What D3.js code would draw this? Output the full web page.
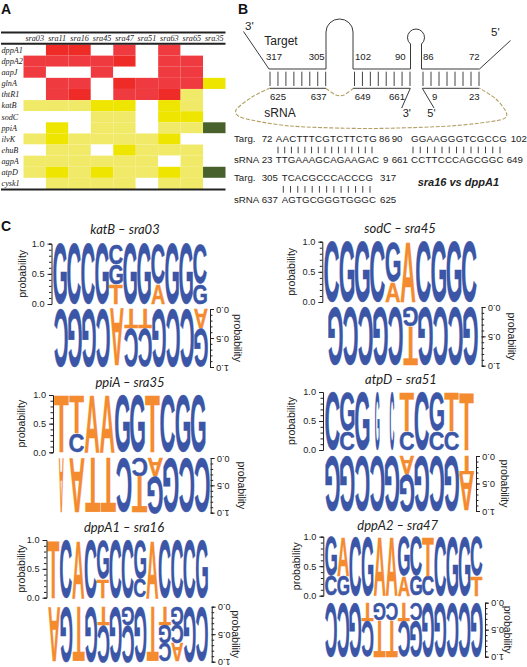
<!DOCTYPE html>
<html>
<head>
<meta charset="utf-8">
<script src="https://cdn.jsdelivr.net/npm/d3@7"></script>
<style>
html, body { margin: 0; padding: 0; background: #fff; overflow: hidden; }
svg { display: block; opacity: 0.999; }
text { font-family: "Liberation Sans", Arial, sans-serif; fill: #222; }
</style>
</head>
<body>
<div class="graph"></div>
<script>
// panel A values
const sraNames = ['sra03', 'sra11', 'sra16', 'sra45', 'sra47', 'sra51', 'sra63', 'sra65', 'sra35'];
const geneNames = ['dppA1', 'dppA2', 'aapJ', 'glnA', 'thtR1', 'katB', 'sodC', 'ppiA', 'ilvK', 'ehuB', 'agpA', 'atpD', 'cysk1'];
const heatLevels = [
    [0, 4, 4, 0, 3, 0, 3, 0, 0],
    [3, 3, 3, 3, 4, 0, 3, 3, 0],
    [3, 0, 0, 3, 0, 0, 3, 3, 0],
    [0, 3, 3, 0, 4, 3, 3, 3, 2],
    [0, 3, 4, 0, 3, 3, 4, 1, 0],
    [1, 1, 1, 2, 2, 0, 2, 1, 0],
    [0, 0, 0, 1, 1, 0, 2, 2, 0],
    [0, 2, 0, 1, 1, 0, 1, 1, 5],
    [1, 2, 1, 1, 1, 1, 2, 0, 0],
    [0, 1, 1, 0, 2, 1, 1, 1, 0],
    [1, 1, 1, 1, 1, 1, 0, 1, 0],
    [1, 2, 1, 2, 1, 1, 2, 1, 5],
    [0, 1, 1, 1, 1, 0, 1, 1, 0]
];

// panel B alignment
const seqTarg1 = 'AACTTTCGTCTTCTG';
const seqSrna1 = 'TTGAAAGCAGAAGAC';
const seqTarg2 = 'GGAAGGGTCGCCG';
const seqSrna2 = 'CCTTCCCAGCGGC';
const seqTarg3 = 'TCACGCCCACCCG';
const seqSrna3 = 'AGTGCGGGTGGGC';

// panel C logos, each column lists letter: probability from the axis outwards
const third = 0.33, rest = 0.67;
const katBTop = [{G:1},{C:1},{C:1},{G:1},{T:third,G:third,C:0.34},{G:1},{G:1},{A:third,C:rest},{G:1},{G:1},{G:third,C:rest}];
const katBBottom = [{C:1},{G:1},{G:1},{C:1},{A:1},{T:third,C:rest},{T:third,C:rest},{G:1},{C:1},{C:1},{A:third,G:rest}];
const sodCTop = [{C:1},{G:1},{G:1},{C:1},{A:third,G:rest},{A:1},{C:1},{G:1},{G:1},{C:1}];
const sodCBottom = [{G:1},{C:1},{C:1},{G:1},{C:1},{G:third,T:rest},{G:1},{C:1},{C:1},{G:1}];
const ppiATop = [{T:1},{C:third,T:rest},{A:1},{A:1},{G:1},{G:1},{T:1},{C:1},{G:1},{G:1}];
const ppiABottom = [{A:1},{A:1},{T:1},{T:1},{C:1},{C:third,T:rest},{A:third,G:rest},{G:1},{C:1},{C:1}];
const ppiABottomThin = [0];
const atpDTop = [{C:1},{C:third,G:rest},{G:1},{G:1},{C:1},{C:third,T:rest},{C:1},{C:third,G:rest},{C:third,T:rest},{T:1}];
const atpDTopThin = [3, 4];
const atpDBottom = [{G:1},{G:1},{C:1},{C:1},{G:1},{A:third,G:rest},{G:1},{C:1},{G:1},{T:third,A:rest}];
const dppA1Top = [{T:1},{C:1},{A:1},{C:1},{T:third,G:rest},{C:1},{C:1},{C:third,G:rest},{A:1},{C:1},{C:1},{C:1},{G:1}];
const dppA1Bottom = [{A:1},{G:1},{T:1},{G:1},{T:third,C:rest},{G:1},{G:third,C:rest},{G:1},{T:1},{T:third,G:third,C:0.34},{G:third,C:third,A:0.34},{G:1},{C:1}];
const dppA2Top = [{C:third,G:rest},{G:third,A:rest},{C:1},{G:1},{A:1},{A:1},{A:third,G:rest},{G:third,C:rest},{C:third,T:rest},{C:1},{G:1},{G:1},{T:third,C:rest}];
const dppA2Bottom = [{C:1},{C:1},{G:1},{T:third,C:rest},{G:third,T:rest},{C:third,T:rest},{T:third,C:rest},{C:third,G:rest},{G:1},{G:1},{C:1},{C:1},{G:1}];

const probTicks = [0, 0.5, 1];
const probMinor = [0, 0.1, 0.2, 0.3, 0.4, 0.5, 0.6, 0.7, 0.8, 0.9, 1];

const svg = d3.select('.graph').append('svg').attr('width', 527).attr('height', 667);

const panelLabel = (txt, x, y) => {
    svg.append('text').attr('x', x).attr('y', y).text(txt)
        .style('font-size', '14px').style('font-weight', 'bold').style('fill', '#111');
};
panelLabel('A', 1, 14);
panelLabel('B', 238, 14);
panelLabel('C', 1, 231);

// ---- A: heat table
const heatColor = d3.scaleOrdinal().domain([0, 1, 2, 3, 4, 5])
    .range(['#ffffff', '#f1ea68', '#eee500', '#ef3b40', '#ee2b27', '#47602c']);
const heatX = d3.scaleBand().domain(sraNames).range([23.5, 225.5]);
const heatY = d3.scaleBand().domain(geneNames).range([44.5, 189]);

const heat = svg.append('g');
geneNames.forEach((gene, r) => {
    sraNames.forEach((sra, c) => {
        heat.append('rect')
            .attr('x', heatX(sra)).attr('y', heatY(gene))
            .attr('width', heatX.bandwidth()).attr('height', heatY.bandwidth())
            .attr('fill', heatColor(heatLevels[r][c]));
    });
    heat.append('text').text(gene)
        .attr('x', 1.5).attr('y', heatY(gene) + heatY.bandwidth() / 2 + 2.8)
        .style('font-family', '"Liberation Serif", serif').style('font-style', 'italic').style('font-size', '8.2px');
});
sraNames.forEach(sra => {
    heat.append('text').text(sra)
        .attr('x', heatX(sra) + heatX.bandwidth() / 2).attr('y', 41)
        .attr('text-anchor', 'middle')
        .style('font-family', '"Liberation Serif", serif').style('font-style', 'italic').style('font-size', '8.2px');
});
[32.5, 43.7, 189.5].forEach(y => {
    heat.append('line').attr('x1', 1).attr('x2', 225.5).attr('y1', y).attr('y2', y)
        .attr('stroke', '#222').attr('stroke-width', 2);
});

// ---- B: duplex sketch
const schem = svg.append('g');
const line = d3.line();
const strand = (pts) => {
    schem.append('path').attr('d', line(pts))
        .attr('fill', 'none').attr('stroke', '#3a3a3a').attr('stroke-width', 1);
};
strand([[243.5, 31.5], [269, 69], [326, 69]]);
schem.append('path').attr('d', 'M326,69 V32 A13.5,13 0 0 1 353,32 V69 H410.5 V44 A8.5,8.5 0 1 1 421.5,44 V69 H479.5 L510.5,40.5')
    .attr('fill', 'none').attr('stroke', '#3a3a3a').attr('stroke-width', 1);
strand([[270, 88.3], [326, 88.3]]);
strand([[353, 88.3], [410.3, 88.3], [401.7, 108]]);
strand([[434, 108], [422.3, 88.3], [479.5, 88.3]]);

const pairTicks = (x0, x1, n, y0, y1, g) => {
    const px = d3.scalePoint().domain(d3.range(n)).range([x0, x1]);
    d3.range(n).forEach(i => {
        g.append('line').attr('x1', px(i)).attr('x2', px(i)).attr('y1', y0).attr('y2', y1)
            .attr('stroke', '#444').attr('stroke-width', 1);
    });
};
pairTicks(270, 325.7, 8, 71.7, 86, schem);
pairTicks(354.5, 410, 8, 71.7, 86, schem);
pairTicks(423, 479, 8, 71.7, 86, schem);

const dash = pts => {
    schem.append('path').attr('d', d3.line().curve(d3.curveCardinal.tension(0.2))(pts))
        .attr('fill', 'none').attr('stroke', '#b39f66').attr('stroke-width', 1.1).attr('stroke-dasharray', '4 1.6');
};
dash([[270, 88], [252, 97], [236, 110], [243, 118], [290, 126], [368, 128.5], [450, 126], [500, 120], [506.5, 113], [496, 99], [480, 88.5]]);
dash([[326, 88.5], [336, 95], [344, 95], [353, 88.5]]);

const label = (txt, x, y, size) => {
    schem.append('text').text(txt).attr('x', x).attr('y', y).style('font-size', size + 'px');
};
label("3'", 245, 30, 11.5);
label("5'", 491, 36, 11.5);
label('Target', 264.3, 44.5, 12);
label('sRNA', 264.3, 117, 12);
[['317', 266, 60], ['305', 308.7, 60], ['102', 355, 60], ['90', 395, 60], ['86', 423, 60], ['72', 469, 60],
 ['625', 270, 100], ['637', 310.7, 100], ['649', 354.7, 100], ['661', 389, 100], ['9', 432, 100], ['23', 469, 100]]
    .forEach(d => label(d[0], d[1], d[2], 9.6));
label("3'", 402.7, 117, 11);
label("5'", 427.3, 117, 11);

// alignment text
const seq = (txt, x, y, x1) => {
    const t = schem.append('text').text(txt).attr('x', x).attr('y', y).style('font-size', '9.7px');
    if (x1) t.attr('textLength', x1 - x).attr('lengthAdjust', 'spacing');
};
seq('Targ.', 234, 141.7); seq('72', 261.7, 141.7); seq(seqTarg1, 275.7, 141.7, 376.7); seq('86', 379, 141.7);
seq('90', 391.7, 141.7); seq(seqTarg2, 411, 141.7, 506.7); seq('102', 510.7, 141.7);
pairTicks(278, 372, seqTarg1.length, 146.7, 153.3, schem);
pairTicks(413, 500, seqTarg2.length, 146.7, 153.3, schem);
seq('sRNA', 234, 163); seq('23', 261.7, 163); seq(seqSrna1, 275.7, 163, 379); seq('9', 383, 163);
seq('661', 391.7, 163); seq(seqSrna2, 411, 163, 503.5); seq('649', 506.7, 163);
seq('Targ.', 234, 181); seq('305', 261.7, 181); seq(seqTarg3, 281.7, 181, 373); seq('317', 380, 181);
pairTicks(283.3, 370, seqTarg3.length, 186, 192.7, schem);
seq('sRNA', 234, 202.7); seq('637', 261.7, 202.7); seq(seqSrna3, 281.7, 202.7, 376); seq('625', 380, 202.7);
schem.append('text').text('sra16 vs dppA1').attr('x', 417.7).attr('y', 185.5)
    .style('font-size', '11px').style('font-weight', 'bold').style('font-style', 'italic');

// ---- C: sequence logos
const letterColor = { G: '#3b56a6', C: '#3b56a6', A: '#f58b2f', T: '#f58b2f' };
const ctx = document.createElement('canvas').getContext('2d');
ctx.font = 'bold 100px "Liberation Sans"';

// stretch one glyph so its ink fills the given box
const drawLetter = (g, ch, xc, w, y0, y1, flipped) => {
    const m = ctx.measureText(ch);
    const inkW = m.actualBoundingBoxLeft + m.actualBoundingBoxRight;
    const inkH = m.actualBoundingBoxAscent + m.actualBoundingBoxDescent;
    const cx = (m.actualBoundingBoxRight - m.actualBoundingBoxLeft) / 2;
    const cy = (m.actualBoundingBoxDescent - m.actualBoundingBoxAscent) / 2;
    g.append('text').text(ch)
        .attr('transform', `translate(${xc},${(y0 + y1) / 2}) rotate(${flipped ? 180 : 0}) scale(${w / inkW},${(y1 - y0) / inkH}) translate(${-cx},${-cy})`)
        .attr('stroke', letterColor[ch]).attr('stroke-width', 0.4).attr('vector-effect', 'non-scaling-stroke')
        .style('font-family', '"Liberation Sans"').style('font-weight', 'bold').style('font-size', '100px')
        .style('fill', letterColor[ch]);
};

const drawLogo = (cols, thin, o) => {
    const g = svg.append('g');
    const x = d3.scaleBand().domain(d3.range(cols.length)).range(o.xr);
    const y = d3.scaleLinear().domain([0, 1]).range(o.yr);
    cols.forEach((col, i) => {
        let cum = 0;
        const w = x.bandwidth() * (thin.includes(i) ? 0.3 : 0.96);
        Object.entries(col).forEach(([ch, p]) => {
            const a = y(cum), b = y(cum + p);
            drawLetter(g, ch, x(i) + x.bandwidth() / 2, w, Math.min(a, b) + 0.2, Math.max(a, b) - 0.2, o.flipped);
            cum += p;
        });
    });

    const axisG = g.append('g').attr('transform', `translate(${o.axisX},0)`);
    const side = o.flipped ? d3.axisRight : d3.axisLeft;
    axisG.call(side(y).tickValues(probMinor).tickSize(2.5).tickFormat(''));
    const major = axisG.append('g').call(side(y).tickValues(probTicks).tickSize(4).tickPadding(3).tickFormat(d3.format('.1f')));
    major.select('.domain').remove();
    major.selectAll('text').style('font-size', '9.2px').style('font-family', '"Liberation Sans"');
    axisG.selectAll('path, line').attr('stroke', '#222');
    if (o.flipped) {
        major.selectAll('text').attr('text-anchor', 'middle').attr('x', 12.5).attr('transform', 'rotate(180 12.5 0)');
    }

    const midY = (o.yr[0] + o.yr[1]) / 2;
    g.append('text').text('probability')
        .attr('transform', `translate(${o.probX},${midY}) rotate(${o.flipped ? 90 : -90})`)
        .attr('text-anchor', 'middle').attr('dy', '0.35em').style('font-size', '10.5px');
};

const logoTitle = (txt, x, y) => {
    svg.append('text').text(txt).attr('x', x).attr('y', y).attr('text-anchor', 'middle')
        .style('font-family', 'Lato, "Open Sans", sans-serif').style('font-style', 'italic').style('font-size', '13px');
};

logoTitle('katB \u2013 sra03', 125, 234);
drawLogo(katBTop, [], { xr: [53, 207], yr: [304, 243.7], axisX: 51.5, probX: 22 });
drawLogo(katBBottom, [], { xr: [54, 208], yr: [309, 367], axisX: 210, probX: 238, flipped: true });

logoTitle('sodC \u2013 sra45', 400, 233);
drawLogo(sodCTop, [], { xr: [324, 477], yr: [302, 241.7], axisX: 322.3, probX: 291 });
drawLogo(sodCBottom, [], { xr: [328, 478], yr: [307, 365.7], axisX: 481.7, probX: 511.7, flipped: true });

logoTitle('ppiA \u2013 sra35', 130, 387);
drawLogo(ppiATop, [], { xr: [54, 205.7], yr: [452.3, 395], axisX: 53, probX: 21 });
drawLogo(ppiABottom, ppiABottomThin, { xr: [53.5, 210], yr: [458, 512.7], axisX: 210.7, probX: 241.7, flipped: true });

logoTitle('atpD \u2013 sra51', 401, 384);
drawLogo(atpDTop, atpDTopThin, { xr: [325, 474], yr: [450, 392], axisX: 323, probX: 291.7 });
drawLogo(atpDBottom, [], { xr: [325, 474], yr: [456, 511], axisX: 476, probX: 505, flipped: true });

logoTitle('dppA1 \u2013 sra16', 124, 532);
drawLogo(dppA1Top, [], { xr: [47.3, 208], yr: [597.7, 540], axisX: 46.5, probX: 21 });
drawLogo(dppA1Bottom, [], { xr: [48, 208], yr: [606.7, 661.7], axisX: 211.7, probX: 236, flipped: true });

logoTitle('dppA2 \u2013 sra47', 397.7, 530);
drawLogo(dppA2Top, [], { xr: [325, 482.7], yr: [595.7, 536.7], axisX: 323.3, probX: 296.7 });
drawLogo(dppA2Bottom, [], { xr: [325, 482.7], yr: [602.7, 656.7], axisX: 485, probX: 508, flipped: true });
</script>
</body>
</html>
